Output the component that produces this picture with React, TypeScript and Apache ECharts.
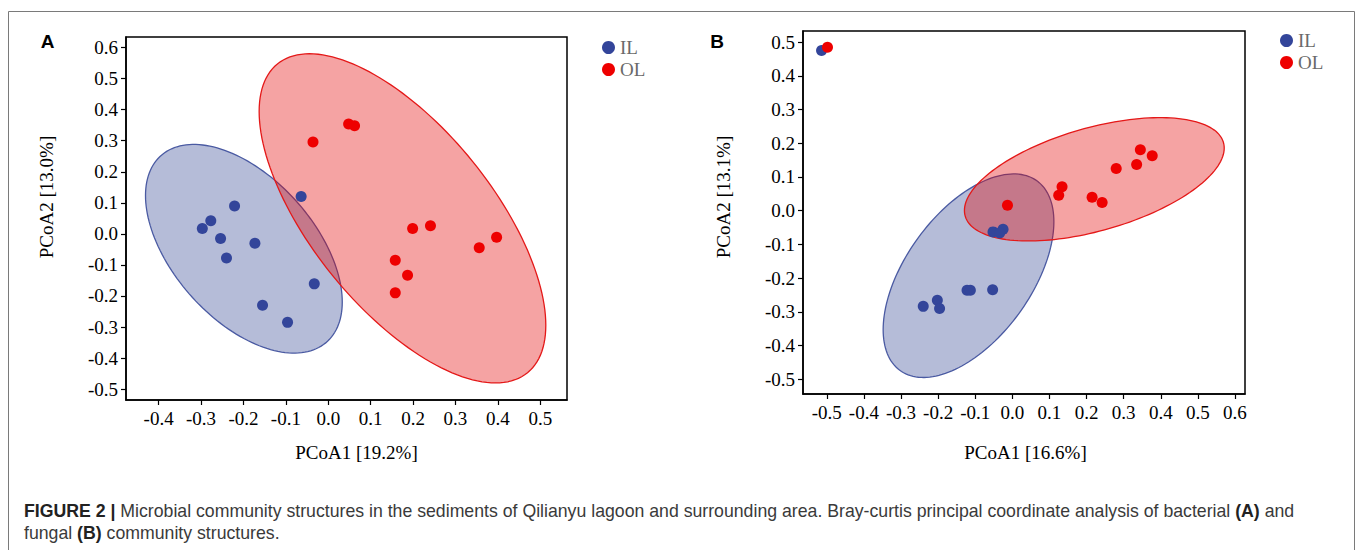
import React, { useEffect, useRef } from 'react';
import * as echarts from 'echarts';

// ---- Tick labels ----
const xTicksA = [-0.4, -0.3, -0.2, -0.1, 0, 0.1, 0.2, 0.3, 0.4, 0.5];
const yTicksA = [-0.5, -0.4, -0.3, -0.2, -0.1, 0, 0.1, 0.2, 0.3, 0.4, 0.5, 0.6];
const xTicksB = [-0.5, -0.4, -0.3, -0.2, -0.1, 0, 0.1, 0.2, 0.3, 0.4, 0.5, 0.6];
const yTicksB = [-0.5, -0.4, -0.3, -0.2, -0.1, 0, 0.1, 0.2, 0.3, 0.4, 0.5];

// ---- Groups ----
const groups = ['IL', 'OL'];

// ---- Panel A (bacteria) points [PCoA1, PCoA2] ----
const ilA = [
  [-0.297, 0.017], [-0.277, 0.042], [-0.221, 0.09], [-0.254, -0.015], [-0.173, -0.03],
  [-0.24, -0.078], [-0.064, 0.12], [-0.033, -0.161], [-0.155, -0.23], [-0.096, -0.285],
];
const olA = [
  [-0.036, 0.296], [0.048, 0.354], [0.062, 0.348], [0.199, 0.017], [0.241, 0.026],
  [0.356, -0.045], [0.397, -0.011], [0.158, -0.085], [0.187, -0.133], [0.158, -0.19],
];

// ---- Panel B (fungi) points ----
const ilB = [
  [-0.514, 0.475], [-0.052, -0.063], [-0.025, -0.055], [-0.034, -0.066], [-0.24, -0.284],
  [-0.202, -0.266], [-0.196, -0.29], [-0.122, -0.236], [-0.113, -0.236], [-0.053, -0.235],
];
const olB = [
  [-0.498, 0.485], [-0.013, 0.016], [0.345, 0.181], [0.377, 0.163], [0.28, 0.125],
  [0.335, 0.137], [0.134, 0.071], [0.125, 0.046], [0.215, 0.04], [0.242, 0.024],
];

// ---- Confidence ellipses [centerX, centerY, halfRangeX, halfRangeY, correlation] ----
const ellipseA_IL = [-0.199, -0.048, 0.232, 0.336, -0.51];
const ellipseA_OL = [0.175, 0.05, 0.338, 0.53, -0.649];
const ellipseB_IL = [-0.118, -0.193, 0.23, 0.302, 0.53];
const ellipseB_OL = [0.221, 0.093, 0.35, 0.183, 0.506];

const BLUE = '#33459A';
const RED = '#EE0000';
const SERIF = 'Liberation Serif';
const SANS = 'Liberation Sans';

const ellipseRender = (fill: string, stroke: string) => (params: any, api: any) => {
  const cx = api.value(0);
  const cy = api.value(1);
  const rx = api.value(2);
  const ry = api.value(3);
  const rho = api.value(4);
  const k = Math.sqrt(1 - rho * rho);
  const pts: number[][] = [];
  const n = 160;
  for (let i = 0; i < n; i++) {
    const t = (i / n) * Math.PI * 2;
    pts.push(api.coord([cx + rx * Math.cos(t), cy + ry * (rho * Math.cos(t) + k * Math.sin(t))]));
  }
  return {
    type: 'polygon',
    shape: { points: pts },
    style: { fill, stroke, lineWidth: 1.3 },
  };
};

const fmt = (v: number) => v.toFixed(1);

const makeXAxis = (gridIndex: number, min: number, max: number, ticks: number[]) => ({
  type: 'value',
  gridIndex,
  min,
  max,
  splitLine: { show: false },
  axisLine: { show: true, onZero: false, lineStyle: { color: '#000', width: 1.5 } },
  axisTick: { show: true, customValues: ticks, length: 5, lineStyle: { color: '#000', width: 1.2 } },
  axisLabel: {
    customValues: ticks,
    formatter: fmt,
    color: '#000',
    fontFamily: SERIF,
    fontSize: 19,
    margin: 9,
  },
});

const makeYAxis = (gridIndex: number, min: number, max: number, ticks: number[]) => ({
  type: 'value',
  gridIndex,
  min,
  max,
  splitLine: { show: false },
  axisLine: { show: true, onZero: false, lineStyle: { color: '#000', width: 1.5 } },
  axisTick: { show: true, customValues: ticks, length: 5, lineStyle: { color: '#000', width: 1.2 } },
  axisLabel: {
    customValues: ticks,
    formatter: fmt,
    color: '#000',
    fontFamily: SERIF,
    fontSize: 19,
    margin: 8,
  },
});

const legendCfg = (left: number, top: number) => ({
  data: groups,
  left,
  top,
  orient: 'vertical',
  icon: 'circle',
  itemWidth: 13,
  itemHeight: 13,
  itemGap: 3,
  textStyle: { fontFamily: SERIF, fontSize: 19, color: '#6a6a6a', lineHeight: 18 },
});

const option: any = {
  animation: false,
  backgroundColor: '#fff',
  grid: [
    { left: 126, top: 37, width: 441, height: 363, show: true, borderColor: '#000', borderWidth: 1.5, backgroundColor: 'transparent' },
    { left: 803, top: 31, width: 442, height: 363, show: true, borderColor: '#000', borderWidth: 1.5, backgroundColor: 'transparent' },
  ],
  xAxis: [makeXAxis(0, -0.477, 0.563, xTicksA), makeXAxis(1, -0.564, 0.627, xTicksB)],
  yAxis: [makeYAxis(0, -0.535, 0.634, yTicksA), makeYAxis(1, -0.544, 0.533, yTicksB)],
  legend: [legendCfg(597, 33), legendCfg(1275, 26)],
  series: [
    {
      type: 'custom', name: 'IL-ellipse-A', xAxisIndex: 0, yAxisIndex: 0, silent: true, z: 1,
      renderItem: ellipseRender('rgba(54,73,150,0.37)', '#4a5aa2'), data: [ellipseA_IL],
    },
    {
      type: 'custom', name: 'OL-ellipse-A', xAxisIndex: 0, yAxisIndex: 0, silent: true, z: 1,
      renderItem: ellipseRender('rgba(228,0,0,0.36)', '#e41818'), data: [ellipseA_OL],
    },
    {
      type: 'custom', name: 'IL-ellipse-B', xAxisIndex: 1, yAxisIndex: 1, silent: true, z: 1,
      renderItem: ellipseRender('rgba(54,73,150,0.37)', '#4a5aa2'), data: [ellipseB_IL],
    },
    {
      type: 'custom', name: 'OL-ellipse-B', xAxisIndex: 1, yAxisIndex: 1, silent: true, z: 1,
      renderItem: ellipseRender('rgba(228,0,0,0.36)', '#e41818'), data: [ellipseB_OL],
    },
    { type: 'scatter', name: 'IL', xAxisIndex: 0, yAxisIndex: 0, data: ilA, symbolSize: 11, itemStyle: { color: BLUE, opacity: 1 }, z: 3 },
    { type: 'scatter', name: 'OL', xAxisIndex: 0, yAxisIndex: 0, data: olA, symbolSize: 11, itemStyle: { color: RED, opacity: 1 }, z: 3 },
    { type: 'scatter', name: 'IL', xAxisIndex: 1, yAxisIndex: 1, data: ilB, symbolSize: 11, itemStyle: { color: BLUE, opacity: 1 }, z: 3 },
    { type: 'scatter', name: 'OL', xAxisIndex: 1, yAxisIndex: 1, data: olB, symbolSize: 11, itemStyle: { color: RED, opacity: 1 }, z: 3 },
  ],
  graphic: [
    {
      type: 'rect', silent: true, z: -1,
      shape: { x: 8.5, y: 11.5, width: 1346, height: 580 },
      style: { fill: 'none', stroke: '#7a7a7a', lineWidth: 1 },
    },
    { type: 'text', x: 47.5, y: 41, style: { text: 'A', fontFamily: SANS, fontWeight: 'bold', fontSize: 19, fill: '#000', textAlign: 'center', textVerticalAlign: 'middle' } },
    { type: 'text', x: 717, y: 41, style: { text: 'B', fontFamily: SANS, fontWeight: 'bold', fontSize: 19, fill: '#000', textAlign: 'center', textVerticalAlign: 'middle' } },
    { type: 'text', x: 356.5, y: 452, style: { text: 'PCoA1 [19.2%]', fontFamily: SERIF, fontSize: 19, fill: '#000', textAlign: 'center', textVerticalAlign: 'middle' } },
    { type: 'text', x: 46, y: 197, rotation: Math.PI / 2, style: { text: 'PCoA2 [13.0%]', fontFamily: SERIF, fontSize: 19, fill: '#000', textAlign: 'center', textVerticalAlign: 'middle' } },
    { type: 'text', x: 1025.5, y: 452, style: { text: 'PCoA1 [16.6%]', fontFamily: SERIF, fontSize: 19, fill: '#000', textAlign: 'center', textVerticalAlign: 'middle' } },
    { type: 'text', x: 723, y: 197, rotation: Math.PI / 2, style: { text: 'PCoA2 [13.1%]', fontFamily: SERIF, fontSize: 19, fill: '#000', textAlign: 'center', textVerticalAlign: 'middle' } },
    {
      type: 'text', x: 24, y: 511,
      style: {
        text: '{b|FIGURE 2 |} Microbial community structures in the sediments of Qilianyu lagoon and surrounding area. Bray-curtis principal coordinate analysis of bacterial {b|(A)} and',
        fontFamily: SANS, fontSize: 17.7, fill: '#3a3a3a', textVerticalAlign: 'middle',
        rich: { b: { fontFamily: SANS, fontSize: 17.7, fontWeight: 'bold', fill: '#222' } },
      },
    },
    {
      type: 'text', x: 24, y: 533,
      style: {
        text: 'fungal {b|(B)} community structures.',
        fontFamily: SANS, fontSize: 17.7, fill: '#3a3a3a', textVerticalAlign: 'middle',
        rich: { b: { fontFamily: SANS, fontSize: 17.7, fontWeight: 'bold', fill: '#222' } },
      },
    },
  ],
};

export default function App() {
  const ref = useRef<HTMLDivElement>(null);
  useEffect(() => {
    const chart = echarts.init(ref.current as HTMLDivElement, null, { renderer: 'svg' });
    chart.setOption(option);
    return () => chart.dispose();
  }, []);
  return (
    <div
      ref={ref}
      style={{ position: 'fixed', left: 0, top: 0, width: 1358, height: 550, background: '#fff' }}
    />
  );
}
